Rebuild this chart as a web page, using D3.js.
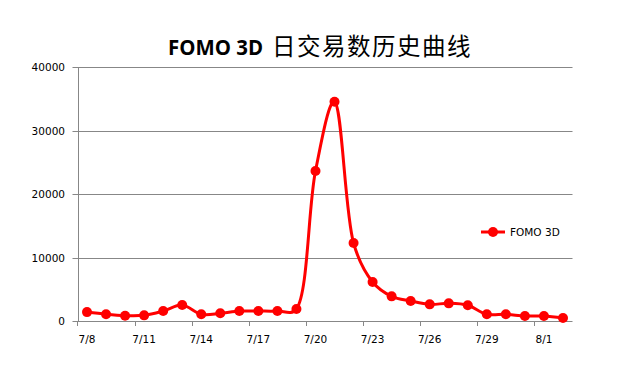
<!DOCTYPE html>
<html><head><meta charset="utf-8">
<script src="https://cdn.jsdelivr.net/npm/d3@7"></script>
<style>body{margin:0;background:#fff}svg{display:block}</style>
</head><body>
<svg id="c" width="631" height="377"></svg>
<script>
const dates = ["7/8","7/9","7/10","7/11","7/12","7/13","7/14","7/15","7/16","7/17","7/18","7/19","7/20","7/21","7/22","7/23","7/24","7/25","7/26","7/27","7/28","7/29","7/30","7/31","8/1","8/2"];
const values = [1400,1050,840,890,1570,2520,1050,1210,1570,1570,1570,1890,23620,34540,12280,6140,3880,3150,2620,2780,2470,1050,1050,790,790,470];
const yTicks = [0,10000,20000,30000,40000];
const xTickLabels = ["7/8","7/11","7/14","7/17","7/20","7/23","7/26","7/29","8/1"];
const seriesName = "FOMO 3D";
const titleLatin = "FOMO 3D";
const titleCJK = "日交易数历史曲线";

const svg = d3.select("#c");
const L = 77.5, R = 572.5, T = 67, B = 321;
const x = d3.scaleBand().domain(dates).range([L, R]);
const y = d3.scaleLinear().domain([0, 40000]).range([B, T]);
const font = "'DejaVu Sans', Verdana, sans-serif";

const t = svg.append("text").attr("x", 168).attr("y", 55).attr("fill", "#000");
t.append("tspan").attr("font-family", "'Open Sans',sans-serif").attr("font-weight", "bold")
  .attr("font-size", 22).attr("textLength", 95).attr("lengthAdjust", "spacingAndGlyphs").text(titleLatin);
t.append("tspan").attr("x", 272).attr("font-size", 23.5).attr("font-family", "'Noto Sans CJK SC',sans-serif").attr("font-weight", "normal")
  .attr("letter-spacing", 1.5).text(titleCJK);

svg.append("g").selectAll("line").data(yTicks).join("line")
  .attr("x1", L - 5).attr("x2", R).attr("y1", d => Math.round(y(d)) + 0.5).attr("y2", d => Math.round(y(d)) + 0.5)
  .attr("stroke", "#878787").attr("stroke-width", 1);
svg.append("line").attr("x1", Math.round(L)+0.5).attr("x2", Math.round(L)+0.5).attr("y1", T).attr("y2", B + 0.5)
  .attr("stroke", "#878787");
svg.append("g").selectAll("text").data(yTicks).join("text")
  .attr("x", 65).attr("y", d => y(d) + 4).attr("text-anchor", "end")
  .attr("font-family", font).attr("font-size", 10.5).attr("fill", "#000").text(d => d);
svg.append("g").selectAll("line").data(xTickLabels).join("line")
  .attr("x1", d => Math.round(x(d)) + 0.5).attr("x2", d => Math.round(x(d)) + 0.5)
  .attr("y1", B).attr("y2", B + 5).attr("stroke", "#878787");
svg.append("g").selectAll("text").data(xTickLabels).join("text")
  .attr("x", d => x(d) + x.bandwidth() / 2).attr("y", 343).attr("text-anchor", "middle")
  .attr("font-family", font).attr("font-size", 10.5).attr("fill", "#000").text(d => d);

const pts = dates.map((d, i) => [x(d) + x.bandwidth() / 2, y(values[i])]);
svg.append("path").datum(pts).attr("fill", "none").attr("stroke", "#ff0000").attr("stroke-width", 3)
  .attr("stroke-linejoin", "round")
  .attr("d", d3.line().curve(d3.curveCatmullRom.alpha(0.4)));
svg.append("g").selectAll("circle").data(pts).join("circle")
  .attr("cx", d => d[0]).attr("cy", d => d[1]).attr("r", 5).attr("fill", "#ff0000");

svg.append("line").attr("x1", 481).attr("x2", 505).attr("y1", 232).attr("y2", 232)
  .attr("stroke", "#ff0000").attr("stroke-width", 3);
svg.append("circle").attr("cx", 493).attr("cy", 232).attr("r", 5).attr("fill", "#ff0000");
svg.append("text").attr("x", 510).attr("y", 236).attr("font-family", font).attr("font-size", 10.5)
  .attr("fill", "#000").text(seriesName);
</script>
</body></html>
